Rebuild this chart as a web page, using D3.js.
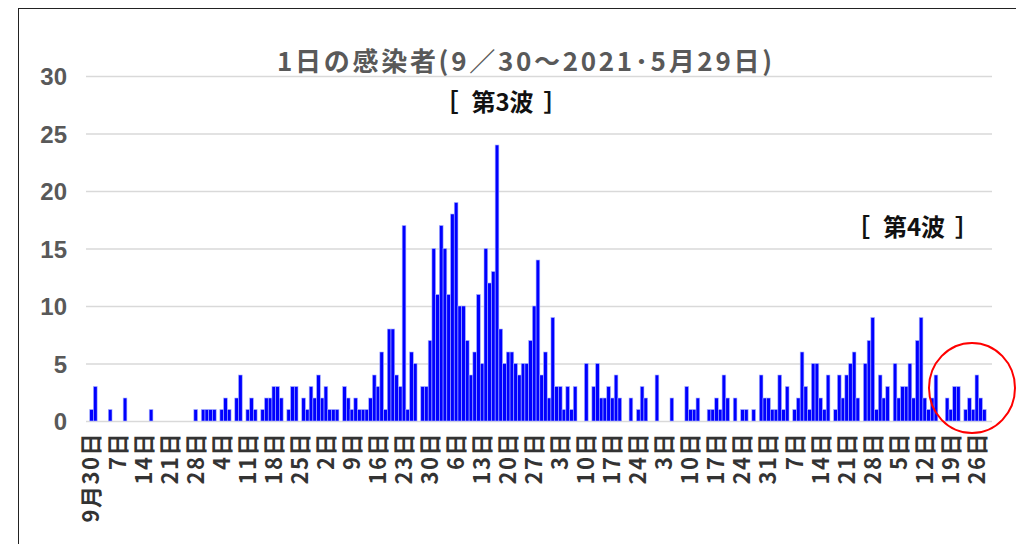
<!DOCTYPE html>
<html><head><meta charset="utf-8">
<script src="https://cdn.jsdelivr.net/npm/d3@7"></script>
<style>body{margin:0;background:#fff}svg{display:block}</style>
</head><body><svg id="c" width="1016" height="544"></svg>
<script>
// ---- data ----
const startDate = "2020-09-30";
const sep = [1];
const oct = [3,0,0,0,1,0,0,0,2,0,0,0,0,0,0,1,0,0,0,0,0,0,0,0,0,0,0,1,0,1,1];
const nov = [1,1,0,1,2,1,0,2,4,0,1,2,1,0,1,2,2,3,3,2,0,1,3,3,0,2,1,3,2,4];
const dec = [2,3,1,1,1,0,3,2,1,2,1,1,1,2,4,3,6,1,8,8,4,3,17,1,6,5,0,3,3,7,15];
const jan = [11,17,15,11,18,19,10,10,7,4,6,11,5,15,12,13,24,8,5,6,6,5,4,5,5,7,10,14,4,6,2];
const feb = [9,3,3,1,3,1,3,0,0,5,0,3,5,2,2,3,2,4,2,0,0,2,0,1,3,2,0,0];
const mar = [4,0,0,0,2,0,0,0,3,1,1,2,0,0,1,1,2,1,4,2,0,2,0,1,1,0,1,0,4,2,2];
const apr = [1,1,4,1,3,0,1,2,6,3,1,5,5,2,1,4,0,1,4,2,4,5,6,2,0,5,7,9,1,4];
const may = [2,3,0,5,2,3,3,5,2,7,9,2,1,2,4,0,0,2,1,3,3,0,1,2,1,4,2,1,0];
const tickLabels = ["9月30日","7日","14日","21日","28日","4日","11日","18日","25日","2日","9日","16日","23日","30日","6日","13日","20日","27日","3日","10日","17日","24日","3日","10日","17日","24日","31日","7日","14日","21日","28日","5日","12日","19日","26日"];
const yTicks = [0,5,10,15,20,25,30];
const titleText = "1日の感染者(9／30～2021･5月29日)";
const waveLabels = ["［第3波］","［第4波］"];

// ---- build ----
const values = [].concat(sep, oct, nov, dec, jan, feb, mar, apr, may);
const start = d3.timeParse("%Y-%m-%d")(startDate);
const days = d3.timeDay.range(start, d3.timeDay.offset(start, values.length));
const data = days.map((d, i) => ({date: d, value: values[i]}));

const svg = d3.select("#c");
svg.append("rect").attr("width",1016).attr("height",544).attr("fill","#fff");
// frame
svg.append("rect").attr("x",18.5).attr("y",8.5).attr("width",1200).attr("height",700)
  .attr("fill","none").attr("stroke","#222").attr("stroke-width",1);

const gridL = 86, gridR = 992;
const x = d3.scaleBand().domain(days.map(d => +d)).range([89.7, 989.9]).padding(0);
const y = d3.scaleLinear().domain([0, 30]).range([421, 76]);

// y axis + gridlines
const yAxis = svg.append("g").attr("transform", `translate(${gridL},0)`)
  .call(d3.axisLeft(y).tickValues(yTicks).tickSize(-(gridR - gridL)).tickPadding(19).tickFormat(d3.format("d")));
yAxis.select(".domain").remove();
yAxis.selectAll("line").attr("stroke", "#d9d9d9").attr("stroke-width", 1.5);
yAxis.selectAll("text").attr("fill", "#595959").attr("dy", "0.36em")
  .style("font-family", "'Liberation Sans', Arial, sans-serif").style("font-weight", "bold").style("font-size", "24px");

// bars
svg.append("g").selectAll("rect").data(data.filter(d => d.value > 0)).join("rect")
  .attr("x", d => x(+d.date)).attr("width", x.bandwidth())
  .attr("y", d => y(d.value)).attr("height", d => y(0) - y(d.value))
  .attr("fill", "#0000ff").attr("stroke", "#aab3ff").attr("stroke-width", 0.6);

// x axis
const tickDays = days.filter((d, i) => i % 7 === 0).map(d => +d);
const xAxis = svg.append("g").attr("transform", `translate(0,${y(0)})`)
  .call(d3.axisBottom(x).tickValues(tickDays).tickSize(0).tickFormat((d, i) => tickLabels[i]));
xAxis.select(".domain").remove();
xAxis.selectAll("text")
  .attr("transform", "rotate(-90)").attr("x", -11).attr("y", 0).attr("dy", "0.36em")
  .style("text-anchor", "end")
  .attr("fill", "#333")
  .style("letter-spacing", "1.5px")
  .style("font-family", "'Noto Sans CJK JP', sans-serif").style("font-weight", "bold").style("font-size", "22px");

// title
svg.append("text").attr("x", 277).attr("y", 62).attr("dy", "0.35em")
  .attr("textLength", 495).attr("lengthAdjust", "spacing")
  .attr("fill", "#595959")
  .style("font-family", "'Noto Sans CJK JP', sans-serif").style("font-weight", "bold").style("font-size", "26px")
  .text(titleText);

// wave labels: bracket / inner text / bracket
const waveCenters = [[502.5, 103], [914, 228]];
const halfW = 54;
const wg = svg.append("g").selectAll("g").data(waveLabels).join("g")
  .attr("transform", (d, i) => `translate(${waveCenters[i][0]},${waveCenters[i][1]})`)
  .style("font-family", "'Noto Sans CJK JP', sans-serif").style("font-weight", "bold").style("font-size", "24px")
  .attr("fill", "#111");
wg.append("text").attr("x", -halfW - 14).attr("dy", "0.35em").attr("text-anchor", "start").text(d => d.slice(0, 1));
wg.append("text").attr("x", 0).attr("dy", "0.35em").attr("text-anchor", "middle").text(d => d.slice(1, -1));
wg.append("text").attr("x", halfW + 11).attr("dy", "0.35em").attr("text-anchor", "end").text(d => d.slice(-1));

// red circle
svg.append("ellipse").attr("cx", 972).attr("cy", 388).attr("rx", 43).attr("ry", 45)
  .attr("fill", "none").attr("stroke", "#ff0000").attr("stroke-width", 2);
</script></body></html>
